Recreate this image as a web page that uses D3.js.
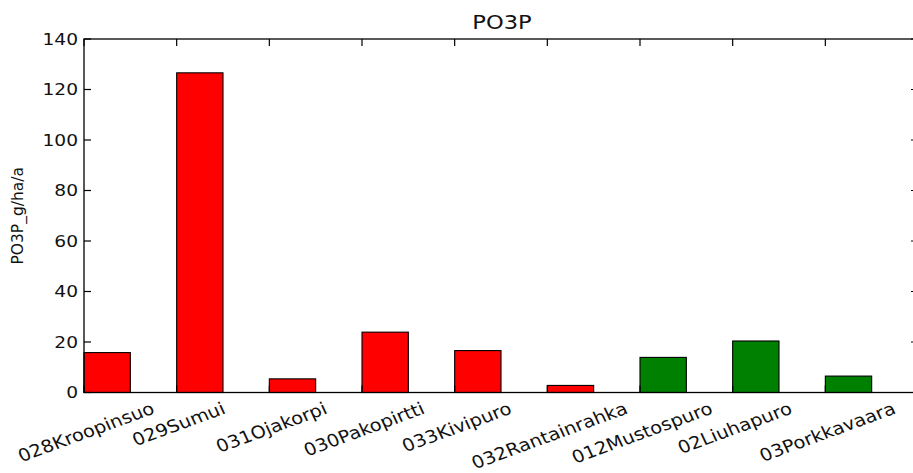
<!DOCTYPE html>
<html>
<head>
<meta charset="utf-8">
<script src="https://cdn.jsdelivr.net/npm/d3@7"></script>
<style>
  html, body { margin: 0; padding: 0; background: #fff; }
  svg { display: block; }
  text { font-family: "DejaVu Sans", sans-serif; fill: #111; }
</style>
</head>
<body>
<svg id="chart" width="913" height="473"></svg>
<script>
// Phosphate (PO3P) load per catchment, g/ha/a
const sites = ["028Kroopinsuo", "029Sumui", "031Ojakorpi", "030Pakopirtti", "033Kivipuro",
               "032Rantainrahka", "012Mustospuro", "02Liuhapuro", "03Porkkavaara"];
const po3p = [15.8, 126.6, 5.4, 23.9, 16.6, 2.8, 13.9, 20.4, 6.5];
const siteGroup = ["treated", "treated", "treated", "treated", "treated", "treated",
                   "reference", "reference", "reference"];
const yTicks = [0, 20, 40, 60, 80, 100, 120, 140];

const svg = d3.select("#chart");
const m = { left: 84, top: 39, right: 918, bottom: 392.5 };
const sx = 1.13;           // horizontal text stretch
const barFrac = 0.5;

const x = d3.scaleLinear().domain([0, sites.length]).range([m.left, m.right]);
const y = d3.scaleLinear().domain([0, 140]).range([m.bottom, m.top]);
const color = d3.scaleOrdinal().domain(["treated", "reference"]).range(["#ff0000", "#008000"]);

// bars
svg.append("g").selectAll("rect").data(po3p).join("rect")
  .attr("x", (d, i) => x(i))
  .attr("width", (d, i) => x(i + barFrac) - x(i))
  .attr("y", d => y(d))
  .attr("height", d => y(0) - y(d))
  .attr("fill", (d, i) => color(siteGroup[i]))
  .attr("stroke", "#000")
  .attr("stroke-width", 1.1);

// inward ticks on all four sides
const tickLen = 7;
const tg = svg.append("g").attr("stroke", "#000").attr("stroke-width", 1.2);
yTicks.forEach(t => {
  tg.append("line").attr("x1", m.left).attr("x2", m.left + tickLen).attr("y1", y(t)).attr("y2", y(t));
  tg.append("line").attr("x1", m.right).attr("x2", m.right - tickLen).attr("y1", y(t)).attr("y2", y(t));
});
sites.forEach((s, i) => {
  tg.append("line").attr("x1", x(i)).attr("x2", x(i)).attr("y1", m.top).attr("y2", m.top + tickLen);
  tg.append("line").attr("x1", x(i)).attr("x2", x(i)).attr("y1", m.bottom).attr("y2", m.bottom - tickLen);
});

// frame
svg.append("rect")
  .attr("x", m.left).attr("y", m.top)
  .attr("width", m.right - m.left).attr("height", m.bottom - m.top)
  .attr("fill", "none").attr("stroke", "#000").attr("stroke-width", 1.3);

// y tick labels
svg.append("g").selectAll("text").data(yTicks).join("text")
  .attr("transform", d => `translate(${m.left - 6},${y(d)}) scale(${sx},1)`)
  .attr("text-anchor", "end")
  .attr("dominant-baseline", "central")
  .style("font-size", "16.5px")
  .text(d => d);

// rotated category labels, centred on each tick, top of rotated box aligned
const ang = 22.5, fs = 17.2, labelTop = 398;
const rad = ang * Math.PI / 180;
const lab = svg.append("g").selectAll("text").data(sites).join("text")
  .attr("text-anchor", "middle")
  .attr("dominant-baseline", "central")
  .style("font-size", fs + "px")
  .text(d => d);
lab.attr("transform", function (d, i) {
  const L = this.getComputedTextLength();
  const hBox = 1.17 * fs;
  const hh = L * Math.sin(rad) + hBox * Math.cos(rad);
  return `translate(${x(i) + 2},${labelTop + hh / 2}) scale(${sx},1) rotate(${-ang})`;
});

// title
svg.append("text")
  .attr("transform", `translate(${(m.left + m.right) / 2 + 1},${m.top - 10}) scale(${sx},1)`)
  .attr("text-anchor", "middle")
  .style("font-size", "20px")
  .text("PO3P");

// y axis label
svg.append("text")
  .attr("transform", `translate(23,${(m.top + m.bottom) / 2}) rotate(-90)`)
  .attr("text-anchor", "middle")
  .style("font-size", "15.5px")
  .text("PO3P_g/ha/a");
</script>
</body>
</html>
